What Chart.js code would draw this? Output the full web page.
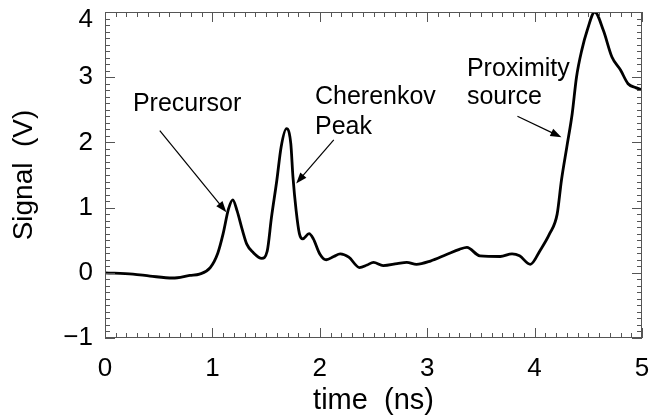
<!DOCTYPE html>
<html>
<head>
<meta charset="utf-8">
<script src="https://cdn.jsdelivr.net/npm/chart.js@4"></script>
<style>
  html, body { margin: 0; padding: 0; background: #fff; }
  #wrap { width: 649px; height: 415px; }
</style>
</head>
<body>
<div id="wrap"><canvas id="myChart" width="649" height="415"></canvas></div>
<script>
// signal trace
const timeNs = [0.00, 0.26, 0.42, 0.63, 0.79, 0.88, 0.98, 1.05, 1.10, 1.15, 1.19, 1.23, 1.28, 1.32, 1.38, 1.46,
  1.51, 1.55, 1.60, 1.64, 1.69, 1.73, 1.75, 1.78, 1.81, 1.84, 1.90, 1.94, 2.00, 2.06, 2.13, 2.19, 2.27,
  2.37, 2.44, 2.50, 2.59, 2.72, 2.81, 2.90, 3.03, 3.18, 3.30, 3.37, 3.49, 3.68, 3.79, 3.86, 3.96, 4.05,
  4.14, 4.21, 4.25, 4.30, 4.35, 4.39, 4.44, 4.49, 4.56, 4.64, 4.72, 4.80, 4.87, 4.94, 5.00];
const signalV = [0.00, -0.02, -0.05, -0.08, -0.04, -0.02, 0.08, 0.30, 0.60, 0.98, 1.12, 0.95, 0.65, 0.44, 0.31, 0.22,
  0.33, 0.85, 1.42, 1.93, 2.21, 1.98, 1.47, 0.95, 0.60, 0.52, 0.60, 0.52, 0.29, 0.20, 0.25, 0.29, 0.24,
  0.08, 0.12, 0.16, 0.11, 0.14, 0.16, 0.13, 0.18, 0.28, 0.36, 0.39, 0.26, 0.25, 0.29, 0.26, 0.13, 0.34,
  0.60, 0.90, 1.42, 1.93, 2.44, 3.00, 3.42, 3.72, 4.00, 3.72, 3.31, 3.11, 2.90, 2.84, 2.81];

const xTicks = [0, 1, 2, 3, 4, 5];
const yTicks = [-1, 0, 1, 2, 3, 4];

// annotations, in data units
const noteLines = [
  ['Precursor', 0.26, 2.58],
  ['Cherenkov', 1.955, 2.70],
  ['Peak', 1.955, 2.24],
  ['Proximity', 3.37, 3.13],
  ['source', 3.37, 2.70]
];
const noteArrows = [
  [0.51, 2.18, 1.13, 0.93],
  [2.13, 2.04, 1.78, 1.37],
  [3.84, 2.40, 4.25, 2.08]
];

const FONT = '"Liberation Sans", Arial, Helvetica, sans-serif';

// IDL style frame with inward ticks on all four sides
const frameTicks = {
  id: 'frameTicks',
  afterDraw(chart) {
    const {ctx, chartArea: a, scales: {x, y}} = chart;
    ctx.save();
    ctx.strokeStyle = '#555';
    ctx.lineWidth = 1;
    ctx.strokeRect(a.left + 0.5, a.top + 0.5, a.width - 1, a.height - 1);
    ctx.beginPath();
    for (let i = 0; i <= 50; i++) {
      const px = Math.round(x.getPixelForValue(i / 10)) + 0.5;
      const len = i % 10 === 0 ? 10 : 5;
      ctx.moveTo(px, a.bottom); ctx.lineTo(px, a.bottom - len);
      ctx.moveTo(px, a.top); ctx.lineTo(px, a.top + len);
    }
    for (let i = -10; i <= 40; i++) {
      const py = Math.round(y.getPixelForValue(i / 10)) + 0.5;
      const len = i % 10 === 0 ? 10 : 5;
      ctx.moveTo(a.left, py); ctx.lineTo(a.left + len, py);
      ctx.moveTo(a.right, py); ctx.lineTo(a.right - len, py);
    }
    ctx.stroke();
    ctx.restore();
  }
};

const notes = {
  id: 'notes',
  afterDatasetsDraw(chart) {
    const {ctx, scales: {x, y}} = chart;
    ctx.save();
    ctx.fillStyle = '#000';
    ctx.strokeStyle = '#000';
    ctx.font = '25px ' + FONT;
    ctx.textAlign = 'left';
    ctx.textBaseline = 'middle';
    noteLines.forEach(([t, vx, vy]) => ctx.fillText(t, x.getPixelForValue(vx), y.getPixelForValue(vy)));
    ctx.lineWidth = 1.2;
    noteArrows.forEach(([x0, y0, x1, y1]) => {
      const ax = x.getPixelForValue(x0), ay = y.getPixelForValue(y0);
      const bx = x.getPixelForValue(x1), by = y.getPixelForValue(y1);
      const ang = Math.atan2(by - ay, bx - ax);
      ctx.beginPath();
      ctx.moveTo(ax, ay);
      ctx.lineTo(bx - 6 * Math.cos(ang), by - 6 * Math.sin(ang));
      ctx.stroke();
      ctx.beginPath();
      ctx.moveTo(bx, by);
      ctx.lineTo(bx - 11 * Math.cos(ang) + 4 * Math.sin(ang), by - 11 * Math.sin(ang) - 4 * Math.cos(ang));
      ctx.lineTo(bx - 11 * Math.cos(ang) - 4 * Math.sin(ang), by - 11 * Math.sin(ang) + 4 * Math.cos(ang));
      ctx.closePath();
      ctx.fill();
    });
    ctx.restore();
  }
};

const ctx = document.getElementById('myChart').getContext('2d');
const myChart = new Chart(ctx, {
  type: 'line',
  data: {
    datasets: [{
      data: timeNs.map((t, i) => ({x: t, y: signalV[i]})),
      borderColor: '#000',
      borderWidth: 2.8,
      pointRadius: 0,
      fill: false,
      cubicInterpolationMode: 'monotone'
    }]
  },
  options: {
    responsive: false,
    animation: false,
    events: [],
    layout: {padding: {top: 12, right: 7, left: 0, bottom: 0}},
    plugins: {legend: {display: false}, tooltip: {enabled: false}},
    scales: {
      x: {
        type: 'linear', min: 0, max: 5,
        afterBuildTicks: s => { s.ticks = xTicks.map(v => ({value: v})); },
        afterFit: s => { s.height = 77; s.paddingLeft = 0; s.paddingRight = 0; },
        grid: {display: false, drawTicks: false},
        border: {display: false},
        ticks: {color: '#000', padding: 15, maxRotation: 0, font: {family: FONT, size: 26}},
        title: {display: true, text: 'time  (ns)', color: '#000', padding: 0,
          font: {family: FONT, size: 29, lineHeight: 1}}
      },
      y: {
        type: 'linear', min: -1, max: 4,
        afterBuildTicks: s => { s.ticks = yTicks.map(v => ({value: v})); },
        afterFit: s => { s.width = 105; s.paddingTop = 0; s.paddingBottom = 0; },
        grid: {display: false, drawTicks: false},
        border: {display: false},
        ticks: {
          color: '#000', padding: 12,
          // top label sits a little below its tick, as in the original
          font: c => ({family: FONT, size: 26, lineHeight: c.tick && c.tick.value === 4 ? 0.6 : 1.2}),
          callback: v => v === 4 ? ['', '4'] : String(v).replace('-', '\u2212')
        },
        title: {display: true, text: 'Signal  (V)', color: '#000', padding: 10,
          font: {family: FONT, size: 28, lineHeight: 1}}
      }
    }
  },
  plugins: [frameTicks, notes]
});
</script>
</body>
</html>
